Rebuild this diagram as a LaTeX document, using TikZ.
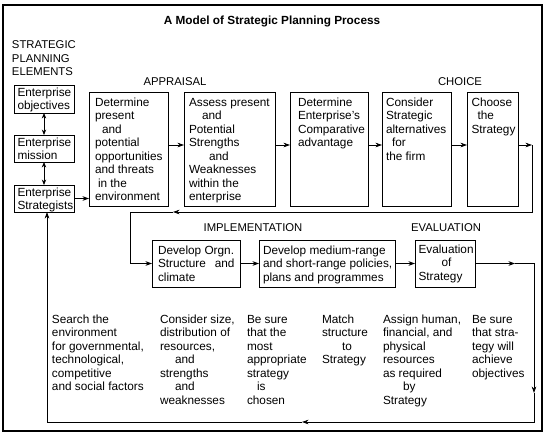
\documentclass[tikz,border=0pt]{standalone}
\usepackage{fontspec}
\setmainfont{Liberation Sans}
\usetikzlibrary{arrows.meta}
\newcommand{\tf}{\fontsize{11.8}{13.5}\selectfont}
\newcommand{\cf}{\fontsize{11.3}{13.6}\selectfont}
% box text: width, height, left margin, first-line height, text
\newcommand{\bt}[5]{\parbox[c][#2][t]{#1}{\raggedright\leftskip=#3\relax\rule{0pt}{#4}#5}}
\newcommand{\colt}[1]{\parbox[t]{110pt}{\raggedright #1}}
\begin{document}
\begin{tikzpicture}[x=1pt,y=-1pt,
  every node/.style={font=\tf, inner sep=0pt, outer sep=0pt},
  box/.style={draw, line width=0.9pt, anchor=north west},
  lbl/.style={anchor=base, font=\cf},
  txt/.style={anchor=base west},
  ln/.style={line width=0.8pt},
  arr/.style={-{Stealth[length=6.5pt,width=4.6pt]}, line width=0.8pt},
  dbl/.style={{Stealth[length=5.5pt,width=4.4pt]}-{Stealth[length=5.5pt,width=4.4pt]}, line width=0.8pt}
]
\useasboundingbox (0,0) rectangle (547,445);
\draw[line width=1.3pt] (3,5) rectangle (542,431);

\node[anchor=base, font=\tf\bfseries] (title) at (272,24.5) {A Model of Strategic Planning Process};
\node[txt, font=\cf] (spe) at (12,48.5) {\parbox[t]{90pt}{\raggedright STRATEGIC\\PLANNING\\ELEMENTS}};
\node[lbl] (appr) at (175,85) {APPRAISAL};
\node[lbl] (choice) at (460,85) {CHOICE};
\node[lbl] (impl) at (253,231) {IMPLEMENTATION};
\node[lbl] (evl) at (446,231) {EVALUATION};

% left column boxes
\node[box] (obj) at (14,85) {\bt{60pt}{28pt}{3.5pt}{11pt}{Enterprise\\objectives}};
\node[box] (mis) at (14,135) {\bt{60pt}{27pt}{3.5pt}{11pt}{Enterprise\\mission}};
\node[box] (strat) at (14,185) {\bt{60pt}{27pt}{3.5pt}{11pt}{Enterprise\\Strategists}};

% appraisal / choice row
\node[box] (b1) at (89,92) {\bt{79pt}{114pt}{6pt}{14pt}{Determine\\present\\\hspace*{7pt}and\\potential\\opportunities\\and threats\\\hspace*{3pt}in the\\environment}};
\node[box] (b2) at (184,92) {\bt{91pt}{114pt}{5pt}{14pt}{Assess present\\\hspace*{13pt}and\\Potential\\Strengths\\\hspace*{20pt}and\\Weaknesses\\within the\\enterprise}};
\node[box] (b3) at (290,92) {\bt{78pt}{114pt}{8pt}{14pt}{Determine\\Enterprise's\\Comparative\\advantage}};
\node[box] (b4) at (382,92) {\bt{69pt}{114pt}{4pt}{14pt}{Consider\\Strategic\\alternatives\\\hspace*{6pt}for\\the firm}};
\node[box] (b5) at (467,92) {\bt{51pt}{114pt}{4.5pt}{14pt}{Choose\\\hspace*{6pt}the\\Strategy}};

% implementation / evaluation row
\node[box] (orgn) at (152,240) {\bt{88pt}{47pt}{6pt}{14pt}{Develop Orgn.\\Structure\hspace{9pt}and\\climate}};
\node[box] (med) at (259,240) {\bt{136pt}{47pt}{4pt}{14pt}{Develop medium-range\\and short-range policies,\\plans and programmes}};
\node[box] (eval) at (415,240) {\bt{60pt}{47pt}{3.5pt}{13pt}{Evaluation\\\hspace*{23pt}of\\Strategy}};

% bottom text columns
\node[txt] (t1) at (52,323) {\colt{Search the\\environment\\for governmental,\\technological,\\competitive\\and social factors}};
\node[txt] (t2) at (160,323) {\colt{Consider size,\\distribution of\\resources,\\\hspace*{15pt}and\\strengths\\\hspace*{15pt}and\\weaknesses}};
\node[txt] (t3) at (247,323) {\colt{Be sure\\that the\\most\\appropriate\\strategy\\\hspace*{10pt}is\\chosen}};
\node[txt] (t4) at (322,323) {\colt{Match\\structure\\\hspace*{20pt}to\\Strategy}};
\node[txt] (t5) at (383,323) {\colt{Assign human,\\financial, and\\physical\\resources\\as required\\\hspace*{20pt}by\\Strategy}};
\node[txt] (t6) at (472,323) {\colt{Be sure\\that stra-\\tegy will\\achieve\\objectives}};

% connectors
\draw[dbl] (obj.south) -- (mis.north);
\draw[dbl] (mis.south) -- (strat.north);
\draw[arr] (strat.east) -- (strat.east -| b1.west);

\coordinate (row) at (0,145);
\draw[arr] (b1.east |- row) -- (b2.west |- row);
\draw[arr] (b2.east |- row) -- (b3.west |- row);
\draw[arr] (b3.east |- row) -- (b4.west |- row);
\draw[arr] (b4.east |- row) -- (b5.west |- row);

\coordinate (c1) at (532,145);
\coordinate (c2) at (532,212);
\coordinate (m2) at (173,212);
\coordinate (c3) at (130,212);
\coordinate (c4) at (130,263.5);
\draw[arr] (b5.east |- c1) -- (c1);
\draw[arr] (c1) -- (c2) -- (m2);
\draw[ln] (m2) -- (c3) -- (c4);
\draw[arr] (c4) -- (orgn.west |- c4);

\draw[arr] (orgn.east) -- (orgn.east -| med.west);
\draw[arr] (med.east) -- (med.east -| eval.west);

\coordinate (m3) at (515,263.5);
\coordinate (c5) at (534,263.5);
\coordinate (m4) at (534,393);
\coordinate (c6) at (534,422);
\coordinate (m5) at (302,422);
\coordinate (c7) at (47,422);
\draw[arr] (eval.east) -- (m3);
\draw[arr] (m3) -- (c5) -- (m4);
\draw[arr] (m4) -- (c6) -- (m5);
\draw[ln] (m5) -- (c7);
\draw[arr] (c7) -- (c7 |- strat.south);
\end{tikzpicture}
\end{document}
